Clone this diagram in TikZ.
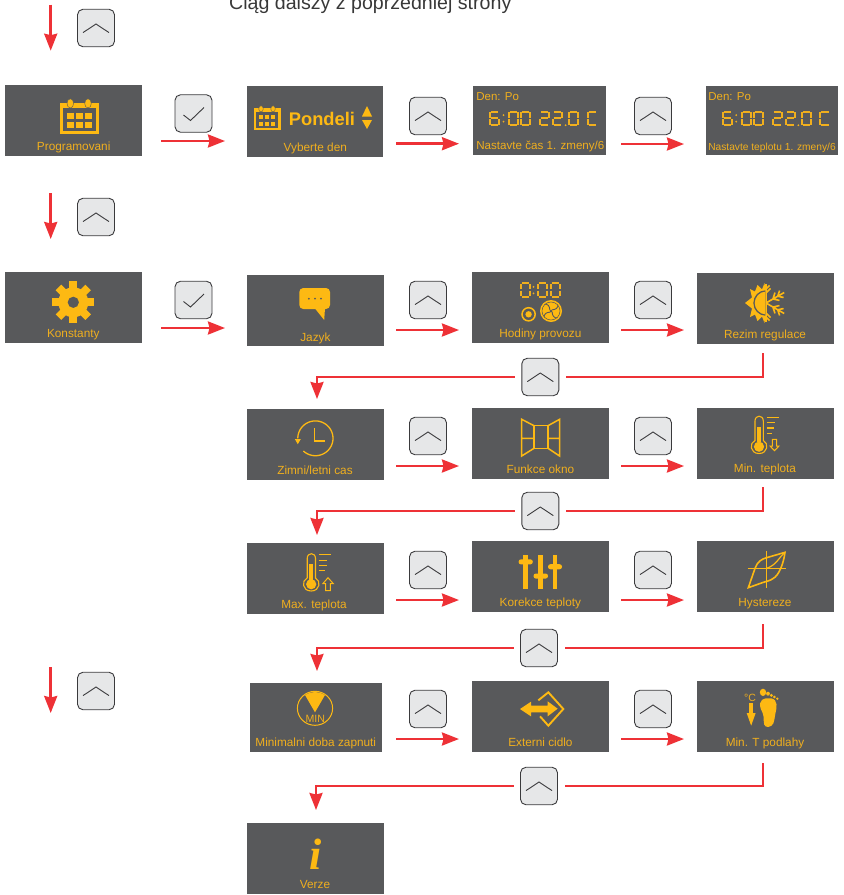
\documentclass[tikz,border=0pt]{standalone}
\usepackage{fontspec}
\setmainfont{Liberation Sans}
\newfontfamily\serifi{Liberation Serif}
\usetikzlibrary{arrows.meta,calc}
\definecolor{panel}{HTML}{58595B}
\definecolor{amber}{HTML}{FDB913}
\definecolor{labelc}{HTML}{F0AF1E}
\definecolor{flowred}{HTML}{EE3136}
\definecolor{btnfill}{HTML}{E6E7E8}
\definecolor{btnline}{HTML}{3A3A3C}
\tikzset{
  screen/.style={fill=panel,draw=none,inner sep=0pt,outer sep=0pt},
  lab/.style={inner sep=0pt,outer sep=0pt,text=labelc,anchor=base,font=\fontsize{11.8}{13}\selectfont},
  btnbox/.style={fill=btnfill,draw=btnline,line width=0.9pt,rounded corners=5.5pt,minimum width=37pt,minimum height=37.5pt,inner sep=0pt,outer sep=0pt},
  glyph/.style={draw=btnline,line width=0.9pt,fill=none},
  flow/.style={draw=flowred,line width=2.5pt,-{Stealth[length=17pt,width=13pt,inset=1.5pt,fill=flowred]}},
  link/.style={draw=flowred,line width=2.5pt},
  ink/.style={fill=amber,draw=none},
  wire/.style={draw=amber,line width=1.5pt,fill=none},
  segline/.style={draw=labelc,line width=2pt,fill=none},
  hole/.style={fill=panel,draw=none}
}
\newcommand\scr[5]{\node[screen,minimum width={(#4-#2)*1pt},minimum height={(#5-#3)*1pt}] (#1) at ({(#2+#4)/2},{(#3+#5)/2}) {};}
\newcommand\tx[4]{\node[lab] (#1) at (#2,#3) {#4};}
\newcommand\txl[5]{\node[lab,anchor=base west,font=\fontsize{#5}{13}\selectfont] (#1) at (#2,#3) {#4};}
\newcommand\upb[3]{\node[btnbox] (#1) at (#2,#3) {};
  \draw[glyph] ([shift={(-13,4.6)}]#1.center) -- ([shift={(0,-4)}]#1.center) -- ([shift={(13,4.6)}]#1.center);}
\newcommand\okb[3]{\node[btnbox] (#1) at (#2,#3) {};
  \draw[glyph] ([shift={(-10,1.5)}]#1.center) -- ([shift={(-3,7)}]#1.center) -- ([shift={(10.5,-6)}]#1.center);}
\newcommand\hflow[6]{\draw[flow] ([shift={(#3,#4)}]#1.east) -- ([shift={(#5,#6)}]#2.west);}
\newcommand\sega[2]{\draw[segline] (#1+1.9,#2+0.9) -- (#1+9.1,#2+0.9);}
\newcommand\segb[2]{\draw[segline] (#1+10.1,#2+1.6) -- (#1+10.1,#2+7.1);}
\newcommand\segc[2]{\draw[segline] (#1+10.1,#2+8.3) -- (#1+10.1,#2+13.8);}
\newcommand\segd[2]{\draw[segline] (#1+1.9,#2+14.5) -- (#1+9.1,#2+14.5);}
\newcommand\sege[2]{\draw[segline] (#1+0.9,#2+8.3) -- (#1+0.9,#2+13.8);}
\newcommand\segf[2]{\draw[segline] (#1+0.9,#2+1.6) -- (#1+0.9,#2+7.1);}
\newcommand\segg[2]{\draw[segline] (#1+1.9,#2+7.7) -- (#1+9.1,#2+7.7);}
\newcommand\sevenseg[3]{\foreach \s in {#3}{\csname seg\s\endcsname{#1}{#2}}}
\newcommand\dzero[2]{\sevenseg{#1}{#2}{a,b,c,d,e,f}}
\newcommand\dsix[2]{\sevenseg{#1}{#2}{a,c,d,e,f,g}}
\newcommand\dtwo[2]{\sevenseg{#1}{#2}{a,b,g,e,d}}
\newcommand\dcee[2]{\sevenseg{#1}{#2}{a,f,e,d}}
\newcommand\colondots[2]{\fill[labelc] (#1,#2+4.5) circle[radius=1pt] (#1,#2+11) circle[radius=1pt];}
\newcommand\readout[2]{
  \dsix{#1}{#2}
  \colondots{#1+14.2}{#2}
  \dzero{#1+19}{#2}\dzero{#1+30.7}{#2}
  \dtwo{#1+50}{#2}\dtwo{#1+62.7}{#2}
  \fill[labelc] (#1+76.4,#2+14.5) circle[radius=1pt];
  \dzero{#1+79}{#2}\dcee{#1+97.4}{#2}}
\newcommand\calicon[3]{\begin{scope}[shift={(#1,#2)},scale=#3]
  \fill[ink] (0,1) rectangle (39,32.6);
  \fill[hole] (3.3,6.6) rectangle (35.7,29.3);
  \foreach \cx in {7,16,25}{\foreach \cy in {11,20.3}{\fill[ink] (\cx,\cy) rectangle +(6.6,6);}}
  \foreach \cx in {10.3,28}{\fill[amber,draw=panel,line width=0.4pt] (\cx,1.7) ellipse[x radius=3.3pt,y radius=4.6pt];}
\end{scope}}
\newcommand\thermo{
  \draw[wire,line width=1.1pt] (755,421) -- (755,440.5) .. controls (749,443) and (750,453.5) .. (759,453.5) .. controls (768,453.5) and (769,443) .. (763.3,440.5) -- (763.3,421) .. controls (763.3,414.6) and (755,414.6) .. (755,421);
  \fill[ink] (757.2,426.7) rectangle (760.8,442);
  \fill[ink] (759,446.7) circle[radius=5.1pt];
  \draw[wire,line width=1.2pt] (766.7,417.3) -- (779,417.3) (766.7,422.7) -- (775,422.7) (766.7,428) -- (774.3,428) (766.7,433.3) -- (772.3,433.3);
}
\begin{document}
\begin{tikzpicture}[x=1pt,y=-1pt]
\useasboundingbox (0,0) rectangle (844,895);
\node[inner sep=0pt,anchor=base west,text=black!78,font=\fontsize{19.6}{22}\selectfont] (title) at (229,9.3) {Ciąg dalszy z poprzedniej strony};

% screens
\scr{prog}{5}{85}{142}{156}
\scr{pon}{247}{86}{383}{157}
\scr{denA}{473}{86}{606}{155}
\scr{denB}{706}{86}{838}{155}
\scr{kon}{5}{272}{142}{343}
\scr{jaz}{247}{275}{384}{346}
\scr{hod}{472}{272}{609}{343}
\scr{rez}{697}{273}{834}{344}
\scr{zim}{247}{409}{384}{480}
\scr{fun}{472}{408}{609}{479}
\scr{mnt}{697}{408}{834}{479}
\scr{mxt}{247}{543}{384}{614}
\scr{kor}{472}{541}{609}{612}
\scr{hys}{697}{541}{834}{612}
\scr{mnd}{250}{683}{382}{752}
\scr{ext}{472}{681}{609}{752}
\scr{mtp}{697}{681}{834}{752}
\scr{ver}{247}{823}{384}{894}

% labels
\tx{lprog}{73.7}{150.5}{Programovani}
\tx{lpon}{315.3}{151.5}{Vyberte den}
\txl{ldenA}{476.3}{100}{Den: Po}{11.5}
\txl{ldenB}{708.3}{100.7}{Den: Po}{11.5}
\txl{lnasA}{476.3}{149.7}{Nastavte čas 1. zmeny/6}{11.6}
\txl{lnasB}{708.3}{150.7}{Nastavte teplotu 1. zmeny/6}{10.2}
\tx{lkon}{73.3}{337}{Konstanty}
\tx{ljaz}{315.4}{341}{Jazyk}
\tx{lhod}{540.4}{337.7}{Hodiny provozu}
\tx{lrez}{765}{338.3}{Rezim regulace}
\tx{lzim}{315}{474}{Zimni/letni cas}
\tx{lfun}{540.4}{473.7}{Funkce okno}
\tx{lmnt}{765}{472.3}{Min. teplota}
\tx{lmxt}{314}{608}{Max. teplota}
\tx{lkor}{540.4}{606.7}{Korekce teploty}
\tx{lhys}{765}{606.7}{Hystereze}
\tx{lmnd}{315.8}{746.3}{Minimalni doba zapnuti}
\tx{lext}{540.4}{746}{Externi cidlo}
\tx{lmtp}{765}{746}{Min. T podlahy}
\tx{lver}{315}{888.7}{Verze}

% buttons
\upb{ba}{96}{28}
\upb{bb}{96}{217}
\upb{bc}{96}{691}
\okb{ca}{193.5}{113.5}
\okb{cb}{193.5}{300}
\upb{u1}{428}{116}
\upb{u2}{653}{116}
\upb{u3}{428}{300}
\upb{u4}{653}{300}
\upb{u5}{428}{436}
\upb{u6}{653}{436}
\upb{u7}{428}{570}
\upb{u8}{653}{570}
\upb{u9}{428}{709}
\upb{u10}{653}{709}
\upb{j1}{540.3}{377}
\upb{j2}{540.3}{511}
\upb{j3}{539}{648}
\upb{j4}{539}{786}

% left arrows
\coordinate (da0) at (50.7,4.7);
\coordinate (da1) at (50.7,50.7);
\coordinate (db0) at (50.7,193);
\coordinate (db1) at (50.7,239);
\coordinate (dc0) at (50.7,667);
\coordinate (dc1) at (50.7,713);
\draw[flow] (da0) -- (da1);
\draw[flow] (db0) -- (db1);
\draw[flow] (dc0) -- (dc1);

% row arrows
\hflow{prog}{pon}{19}{20.5}{-22}{19.5}
\hflow{pon}{denA}{13}{22.2}{-14}{23.2}
\hflow{denA}{denB}{15}{23.5}{-22}{23.5}
\hflow{kon}{jaz}{19}{20.5}{-22}{17.5}
\hflow{jaz}{hod}{12}{19.5}{-13}{22.5}
\hflow{hod}{rez}{12}{22.5}{-13}{21.5}
\hflow{zim}{fun}{12}{21.5}{-13}{22.5}
\hflow{fun}{mnt}{12}{22.5}{-13}{22.5}
\hflow{mxt}{kor}{12}{21.5}{-13}{23.5}
\hflow{kor}{hys}{12}{23.5}{-13}{23.5}
\hflow{mnd}{ext}{14}{21.5}{-13}{22.5}
\hflow{ext}{mtp}{12}{22.5}{-13}{22.5}

% return connectors
\draw[link] ([shift={(-2.5,9)}]rez.south) |- ([xshift=7pt]j1.east);
\draw[flow] ([xshift=-7pt]j1.west) -| ([shift={(1.5,-10)}]zim.north);
\draw[link] ([shift={(-2.5,8)}]mnt.south) |- ([xshift=7pt]j2.east);
\draw[flow] ([xshift=-7pt]j2.west) -| ([shift={(1.5,-8)}]mxt.north);
\draw[link] ([shift={(-2.5,12)}]hys.south) |- ([xshift=7pt]j3.east);
\draw[flow] ([xshift=-7pt]j3.west) -| ([shift={(1,-12)}]mnd.north);
\draw[link] ([shift={(-2.5,11)}]mtp.south) |- ([xshift=7pt]j4.east);
\draw[flow] ([xshift=-7pt]j4.west) -| ([shift={(0.5,-13)}]ver.north);

% calendars and Pondeli
\calicon{60}{101.7}{1}
\calicon{254}{107.7}{0.68}
\node[inner sep=0pt,anchor=base west,text=amber,font=\fontsize{18.3}{20}\selectfont\bfseries] (pondeli) at (288.7,125) {Pondeli};
\fill[ink] (367,106) -- (372,116.5) -- (362,116.5) -- cycle;
\fill[ink] (362,120) -- (372,120) -- (367,129) -- cycle;

% seven segment readouts
\readout{489.3}{110.7}
\readout{722}{110.7}

% gear
\begin{scope}[shift={(73.3,302.3)}]
  \foreach \a in {0,45,...,315}{\fill[ink,rotate=\a] (-3.9,-21) rectangle (3.9,0);}
  \fill[ink] (0,0) circle[radius=15pt];
  \fill[hole] (0,0) circle[radius=5.6pt];
\end{scope}

% chat bubble
\fill[ink,rounded corners=4pt] (299.3,288) rectangle (330,309);
\fill[ink] (314.6,308) -- (324.2,320) -- (325,308) -- cycle;
\foreach \dx in {308.9,315,321}{\fill[hole] (\dx,298.7) circle[radius=1pt];}

% hour counter
\dzero{520.3}{282.3}
\fill[labelc] (533.5,286.8) circle[radius=1pt] (533.5,293.3) circle[radius=1pt];
\dzero{536.7}{282.3}
\dzero{549.6}{282.3}
\draw[wire,line width=1.5pt] (528.6,314.3) circle[radius=6.6pt];
\fill[ink] (528.6,314.3) circle[radius=3.2pt];
\fill[ink] (551,311) circle[radius=11pt];
\draw[panel,line width=0.55pt] (551,311) circle[radius=9pt];
\begin{scope}[shift={(551,311)}]
  \foreach \a in {0,90,180,270}{\draw[panel,line width=0.9pt,rotate=\a] (1,-1.2) .. controls (4.5,-1) and (7.5,-3.5) .. (6.8,-6.2);}
  \fill[panel] (0,0) circle[radius=1.5pt];
\end{scope}

% snowflake, then sun over it
\begin{scope}[shift={(766,303)}]
  \draw[wire,line width=1.7pt] (0,-19) -- (0,19);
  \draw[wire,line width=1.5pt] (0,-10) -- (4.5,-14.5) (0,-14) -- (3.5,-17.5) (0,10) -- (4.5,14.5) (0,14) -- (3.5,17.5);
  \foreach \r in {-30,30}{
    \begin{scope}[rotate=\r]
      \draw[wire,line width=1.6pt] (0,0) -- (21,0) (8,0) -- (13,-4.5) (8,0) -- (13,4.5) (13.5,0) -- (18,-4) (13.5,0) -- (18,4);
    \end{scope}}
  \fill[ink] (-1.5,-20) -- (-4,-13.5) -- (-8.5,-18) -- (-11,-11.5) -- (-16,-14) -- (-14,-5.5) -- (-21,0) -- (-14,5.5) -- (-16,14) -- (-11,11.5) -- (-8.5,18) -- (-4,13.5) -- (-1.5,20) -- (-0.6,12) -- (-0.6,-12) -- cycle;
  \fill[hole] (-0.6,-12.7) .. controls (-7,-12.7) and (-12.7,-7) .. (-12.7,0) .. controls (-12.7,7) and (-7,12.7) .. (-0.6,12.7) -- cycle;
  \fill[ink] (-0.8,-11.3) .. controls (-6,-11.3) and (-11.3,-6) .. (-11.3,0) .. controls (-11.3,6) and (-6,11.3) .. (-0.8,11.3) -- cycle;
\end{scope}

% clock
\draw[wire,line width=1.3pt] plot[domain=180:493,samples=60] ({315.4+17.6*cos(\x)},{438.3+17.4*sin(\x)});
\fill[ink] (294.8,439) -- (300.8,439) -- (297.8,444.2) -- cycle;
\draw[wire,line width=1.7pt] (314.6,428.3) -- (314.6,440.7) -- (325,440.7);

% window
\draw[wire] (534,425.7) rectangle (548,448.3);
\draw[wire] (534,425.7) -- (521.7,419.3) -- (521.7,456) -- (534,448.3) (521.7,438.3) -- (534,438.3);
\draw[wire] (548,425.7) -- (559.6,419.3) -- (559.6,456) -- (548,448.3) (548,438.3) -- (559.6,438.3);

% thermometers
\thermo
\draw[wire,line width=1pt] (772.3,439.3) -- (776.7,439.3) -- (776.7,446) -- (779,446) -- (774.5,450.7) -- (770,446) -- (772.3,446) -- cycle;
\begin{scope}[shift={(-447.8,137.5)}]
  \thermo
  \draw[wire,line width=1pt] (773.5,453) -- (778.2,453) -- (778.2,446) -- (781,446) -- (775.8,440.2) -- (770.8,446) -- (773.5,446) -- cycle;
\end{scope}

% sliders
\foreach \bx in {525.5,540.4,555}{
  \fill[ink] ({\bx-2.2},554.7) rectangle ({\bx+2.2},588.7);
}
\fill[ink,rounded corners=2.4pt] (518.6,559.3) rectangle (532.8,564.4);
\fill[ink,rounded corners=2.4pt] (533.5,573.5) rectangle (548,578.6);
\fill[ink,rounded corners=2.4pt] (548,564.2) rectangle (562,569.3);

% hysteresis
\begin{scope}[shift={(730,545)},scale=1/3]
  \draw[wire,line width=1.6pt] (110,18) -- (110,130) (53,71) -- (168,71);
  \draw[wire,line width=1.6pt] (55,128) -- (75,70) .. controls (82,50) and (95,42) .. (110,38) -- (165,22)
     .. controls (160,60) and (145,92) .. (130,100) .. controls (120,108) and (110,108) .. (100,112) -- cycle;
  \draw[wire,line width=1.2pt] (165,22) .. controls (148,35) and (140,60) .. (110,70);
\end{scope}

% MIN icon
\draw[wire,line width=1pt] (315,708.3) ellipse[x radius=17.6pt,y radius=17pt];
\fill[ink] (305,695) .. controls (311,691) and (319,691) .. (325,695) -- (315,712.3) -- cycle;
\node[inner sep=0pt,anchor=base,text=labelc,font=\fontsize{10.6}{12}\selectfont] (mintext) at (315.3,722.3) {MIN};

% external sensor
\begin{scope}[shift={(505,683)},scale=1/3]
  \fill[ink] (45,78) -- (78,56) -- (78,68) -- (128,68) -- (128,55) -- (158,77) -- (128,100) -- (128,88) -- (78,88) -- (78,100) -- cycle;
  \draw[wire,line width=1.9pt] (100,52) -- (130,28) -- (175,78) -- (130,128) -- (105,100);
\end{scope}

% floor / foot
\node[inner sep=0pt,anchor=base,text=labelc,font=\fontsize{10.5}{12}\selectfont] (degc) at (750,701.3) {°C};
\begin{scope}[shift={(730,683)},scale=1/3]
  \fill[ink] (58,60) rectangle (68,94);
  \fill[ink] (50,90) -- (77,90) -- (63.5,128) -- cycle;
  \fill[ink] (90,62) .. controls (90,44) and (125,40) .. (135,52) .. controls (146,66) and (135,90) .. (133,110) .. controls (132,128) and (118,134) .. (108,131) .. controls (97,128) and (104,100) .. (98,90) .. controls (94,82) and (90,75) .. (90,62) -- cycle;
  \fill[ink] (99,28) ellipse[x radius=9.5pt,y radius=11pt];
  \fill[ink] (114,32) ellipse[x radius=5.5pt,y radius=6pt];
  \fill[ink] (124,37) circle[radius=5pt];
  \fill[ink] (133,42) circle[radius=4.4pt];
  \fill[ink] (142,47) circle[radius=4pt];
\end{scope}

% info
\node[inner sep=0pt,anchor=base,text=amber,font=\serifi\fontsize{44}{46}\selectfont\bfseries\itshape] (info) at (315.5,869) {i};
\end{tikzpicture}
\end{document}
